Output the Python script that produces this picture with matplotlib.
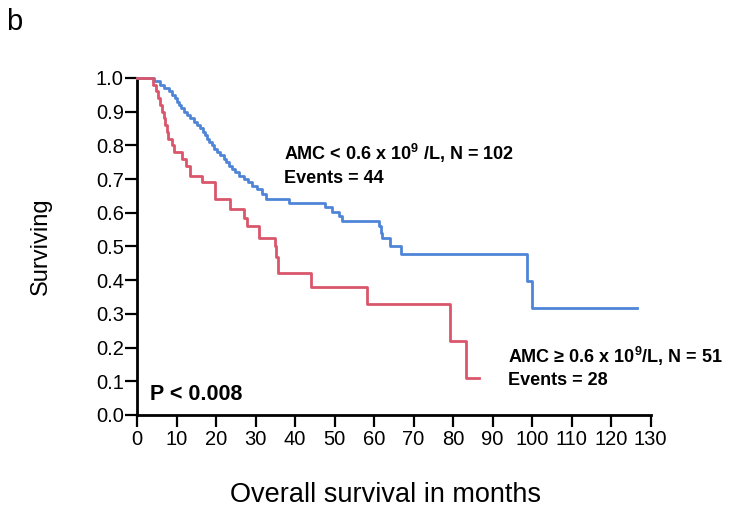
import numpy as np
import matplotlib
matplotlib.use('Agg')
from matplotlib import pyplot as plt

plt.rcParams['font.family'] = ['Liberation Sans', 'DejaVu Sans']
plt.rcParams['mathtext.fontset'] = 'custom'
plt.rcParams['mathtext.rm'] = 'Liberation Sans'
plt.rcParams['mathtext.bf'] = 'Liberation Sans:bold'

# low AMC group (AMC < 0.6), step times in months and survival after each step
blue_t = [0, 4.2, 5.9, 6.8, 8.0, 8.8, 9.5, 10.0, 10.5, 11.2, 11.8, 12.7, 13.5, 14.4, 15.2,
          16.0, 16.6, 17.2, 17.6, 18.1, 19.0, 19.6, 20.3, 21.0, 21.9, 22.5, 23.2, 24.0,
          24.9, 25.7, 27.0, 28.0, 29.1, 30.4, 31.6, 32.7, 38.4, 47.7, 49.4, 51.0, 51.9,
          61.3, 61.7, 62.0, 64.1, 66.7, 98.8, 100.0]
blue_s = [1.0, 0.99, 0.98, 0.97, 0.96, 0.95, 0.94, 0.93, 0.92, 0.91, 0.90, 0.89, 0.88, 0.87, 0.86,
          0.85, 0.84, 0.83, 0.82, 0.81, 0.80, 0.79, 0.78, 0.77, 0.76, 0.75, 0.74, 0.73,
          0.72, 0.71, 0.70, 0.69, 0.68, 0.67, 0.655, 0.64, 0.628, 0.616, 0.603, 0.59, 0.575,
          0.56, 0.54, 0.525, 0.50, 0.478, 0.398, 0.316]
blue_end = 126.5

# high AMC group (AMC >= 0.6)
red_t = [0, 4.0, 4.8, 5.3, 5.8, 6.3, 6.8, 7.2, 7.6, 7.9, 8.8, 9.3, 11.5, 12.4, 13.4, 16.5,
         19.8, 23.6, 27.0, 27.8, 30.8, 34.8, 35.1, 35.6, 44.1, 58.3, 79.2, 83.3]
red_s = [1.0, 0.98, 0.96, 0.94, 0.92, 0.90, 0.88, 0.86, 0.84, 0.82, 0.80, 0.78, 0.76, 0.74, 0.71, 0.69,
         0.64, 0.61, 0.585, 0.56, 0.525, 0.50, 0.47, 0.42, 0.38, 0.33, 0.22, 0.11]
red_end = 86.6

blue_c = '#4f85d7'
red_c = '#d9566b'

fig = plt.figure(figsize=(7.29, 5.11), dpi=100)
ax = fig.add_axes([0.188, 0.188, 0.7045, 0.6595])

ax.step(blue_t + [blue_end], blue_s + [blue_s[-1]], where='post', color=blue_c, lw=2.0, clip_on=False, zorder=3)
ax.step(red_t + [red_end], red_s + [red_s[-1]], where='post', color=red_c, lw=2.0, clip_on=False, zorder=3)

ax.set_xlim(0, 130)
ax.set_ylim(0, 1)
ax.set_xticks(np.arange(0, 131, 10))
ax.set_yticks(np.arange(0, 1.01, 0.1))
ax.set_yticklabels(['%.1f' % v for v in np.arange(0, 1.01, 0.1)])

for s in ['top', 'right']:
    ax.spines[s].set_visible(False)
for s in ['left', 'bottom']:
    ax.spines[s].set_linewidth(2)
ax.tick_params(direction='out', length=8.5, width=1.6, labelsize=14.5)
ax.tick_params(axis='y', pad=1)
ax.tick_params(axis='x', pad=2)

ax.set_ylabel('Surviving', fontsize=17)
ax.yaxis.set_label_coords(-0.165, 0.5)
ax.set_xlabel('Overall survival in months', fontsize=19.5)
ax.xaxis.set_label_coords(0.483, -0.2)

ax.text(37.2, 0.757, r'AMC < 0.6 x 10$^{\mathbf{9}}$ /L, N = 102', fontsize=13, fontweight='bold')
ax.text(37.2, 0.688, 'Events = 44', fontsize=13, fontweight='bold')
ax.text(93.9, 0.154, r'AMC ≥ 0.6 x 10$^{\mathbf{9}}$/L, N = 51', fontsize=13, fontweight='bold')
ax.text(93.9, 0.089, 'Events = 28', fontsize=13, fontweight='bold')
ax.text(3.3, 0.045, 'P < 0.008', fontsize=15.5, fontweight='bold')

fig.text(0.009, 0.985, 'b', fontsize=21, va='top')

fig.savefig('out.png', dpi=100)
